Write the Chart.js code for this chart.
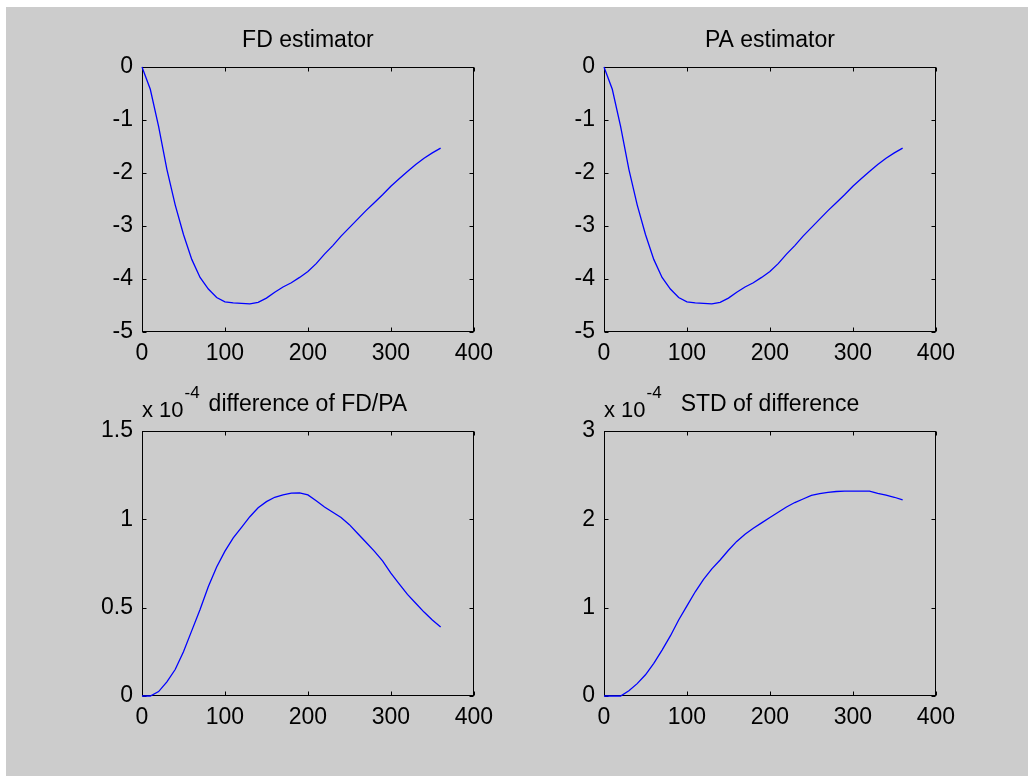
<!DOCTYPE html>
<html>
<head>
<meta charset="utf-8">
<script src="https://cdn.jsdelivr.net/npm/chart.js@4/dist/chart.umd.min.js"></script>
<style>
  html, body { margin: 0; padding: 0; background: #ffffff; width: 1028px; height: 776px; overflow: hidden; }
  #fig { position: absolute; left: 6px; top: 7px; width: 1022px; height: 769px; background: #cccccc; }
  canvas { position: absolute; }
</style>
</head>
<body>
<div id="fig"></div>
<canvas id="fd" width="441" height="350" style="left:60px;top:20px"></canvas>
<canvas id="pa" width="441" height="350" style="left:522px;top:20px"></canvas>
<canvas id="diff" width="441" height="350" style="left:60px;top:384px"></canvas>
<canvas id="std" width="441" height="350" style="left:522px;top:384px"></canvas>
<script>
// Sample positions shared by all four panels
const steps = [0, 10, 20, 30, 40, 50, 60, 70, 80, 90, 100, 110, 120, 130, 140, 150, 160, 170, 180,
               190, 200, 210, 220, 230, 240, 250, 260, 270, 280, 290, 300, 310, 320, 330, 340, 350, 360];

// Finite-difference estimator
const fdEstimate = [0, -0.42, -1.12, -1.93, -2.60, -3.16, -3.63, -3.97, -4.19, -4.35, -4.43, -4.45, -4.46,
                    -4.47, -4.44, -4.36, -4.25, -4.15, -4.07, -3.97, -3.86, -3.71, -3.53, -3.37, -3.19,
                    -3.03, -2.87, -2.71, -2.56, -2.41, -2.25, -2.11, -1.97, -1.84, -1.72, -1.62, -1.53];

// Perturbation-analysis estimator
const paEstimate = [0, -0.42, -1.12, -1.93, -2.60, -3.16, -3.63, -3.97, -4.19, -4.35, -4.43, -4.45, -4.46,
                    -4.47, -4.44, -4.36, -4.25, -4.15, -4.07, -3.97, -3.86, -3.71, -3.53, -3.37, -3.19,
                    -3.03, -2.87, -2.71, -2.56, -2.41, -2.25, -2.11, -1.97, -1.84, -1.72, -1.62, -1.53];

// Difference of FD/PA, in units of 1e-4
const diffE4 = [0, 0, 0.025, 0.08, 0.15, 0.25, 0.37, 0.49, 0.62, 0.73, 0.82, 0.895, 0.955, 1.015, 1.065,
                1.10, 1.125, 1.138, 1.148, 1.150, 1.138, 1.105, 1.07, 1.04, 1.01, 0.97, 0.92, 0.87, 0.82,
                0.765, 0.695, 0.635, 0.575, 0.525, 0.475, 0.43, 0.39];

// Standard deviation of the difference, in units of 1e-4
const stdE4 = [0, 0, 0, 0.06, 0.14, 0.24, 0.37, 0.52, 0.68, 0.86, 1.02, 1.18, 1.32, 1.44, 1.54, 1.65, 1.75,
               1.83, 1.90, 1.96, 2.02, 2.08, 2.14, 2.19, 2.23, 2.27, 2.29, 2.305, 2.315, 2.32, 2.32, 2.32,
               2.32, 2.295, 2.275, 2.25, 2.22];

// Tick values
const xTicks = [0, 100, 200, 300, 400];
const estTicks = [0, -1, -2, -3, -4, -5];
const diffTicks = [0, 0.5, 1, 1.5];
const stdTicks = [0, 1, 2, 3];

// Panel titles and the shared exponent label
const titles = ['FD estimator', 'PA estimator', 'difference of FD/PA', 'STD of difference'];
const expBase = 'x 10';
const expPower = '-4';

const FONT = "'Liberation Sans', Arial, Helvetica, sans-serif";
Chart.defaults.font.family = FONT;
Chart.defaults.font.size = 23;
Chart.defaults.color = '#000000';

// Boxed axes with inward ticks on all four sides, plus title and exponent text
const boxAxes = {
  id: 'boxAxes',
  beforeDatasetsDraw(chart) {
    const { ctx, chartArea: a, scales: { x, y } } = chart;
    const L = Math.round(a.left) + 0.5, R = Math.round(a.right) - 0.5;
    const T = Math.round(a.top) + 0.5, B = Math.round(a.bottom) - 0.5;
    const tl = 4;
    ctx.save();
    ctx.strokeStyle = '#000000';
    ctx.lineWidth = 1;
    ctx.strokeRect(L, T, R - L, B - T);
    ctx.beginPath();
    x.ticks.forEach(t => {
      const px = Math.round(x.getPixelForValue(t.value)) + 0.5;
      ctx.moveTo(px, B); ctx.lineTo(px, B - tl);
      ctx.moveTo(px, T); ctx.lineTo(px, T + tl);
    });
    y.ticks.forEach(t => {
      const py = Math.round(y.getPixelForValue(t.value)) + 0.5;
      ctx.moveTo(L, py); ctx.lineTo(L + tl, py);
      ctx.moveTo(R, py); ctx.lineTo(R - tl, py);
    });
    ctx.stroke();
    ctx.restore();
  },
  afterDraw(chart, args, opts) {
    const { ctx, chartArea: a } = chart;
    ctx.save();
    ctx.fillStyle = '#000000';
    ctx.textBaseline = 'alphabetic';
    ctx.font = '23px ' + FONT;
    ctx.textAlign = 'center';
    ctx.fillText(opts.title, (a.left + a.right) / 2, a.top - 20);
    if (opts.exponent) {
      ctx.textAlign = 'left';
      ctx.font = '22px ' + FONT;
      ctx.fillText(expBase, a.left, a.top - 14);
      const w = ctx.measureText(expBase).width;
      ctx.font = '17px ' + FONT;
      ctx.fillText(expPower, a.left + w + 1, a.top - 33);
    }
    ctx.restore();
  }
};

// Plain number labels: 0, 0.5, 1, 1.5 (no padded decimals)
const plainLabel = v => String(v);

function makePanel(id, values, yTicks, title, exponent) {
  const yMin = Math.min(...yTicks), yMax = Math.max(...yTicks);
  return new Chart(document.getElementById(id), {
    type: 'line',
    data: {
      datasets: [{
        data: steps.map((s, i) => ({ x: s, y: values[i] })),
        borderColor: '#0000ff',
        borderWidth: 1.3,
        pointRadius: 0,
        tension: 0,
        fill: false,
        clip: 3
      }]
    },
    options: {
      responsive: false,
      animation: false,
      events: [],
      layout: { padding: { top: 47, right: 22, left: 0, bottom: 0 } },
      plugins: {
        legend: { display: false },
        tooltip: { enabled: false },
        boxAxes: { title: title, exponent: exponent }
      },
      scales: {
        x: {
          type: 'linear',
          min: 0, max: 400,
          afterBuildTicks: s => { s.ticks = xTicks.map(v => ({ value: v })); },
          afterFit: s => { s.height = 38; },
          grid: { display: false, drawTicks: false },
          border: { display: false },
          ticks: { padding: 8, maxRotation: 0, autoSkip: false, callback: plainLabel }
        },
        y: {
          type: 'linear',
          min: yMin, max: yMax,
          afterBuildTicks: s => { s.ticks = yTicks.map(v => ({ value: v })); },
          afterFit: s => { s.width = 82; },
          grid: { display: false, drawTicks: false },
          border: { display: false },
          ticks: { padding: 9, autoSkip: false, callback: plainLabel }
        }
      }
    },
    plugins: [boxAxes]
  });
}

makePanel('fd', fdEstimate, estTicks, titles[0], false);
makePanel('pa', paEstimate, estTicks, titles[1], false);
makePanel('diff', diffE4, diffTicks, titles[2], true);
makePanel('std', stdE4, stdTicks, titles[3], true);
</script>
</body>
</html>
